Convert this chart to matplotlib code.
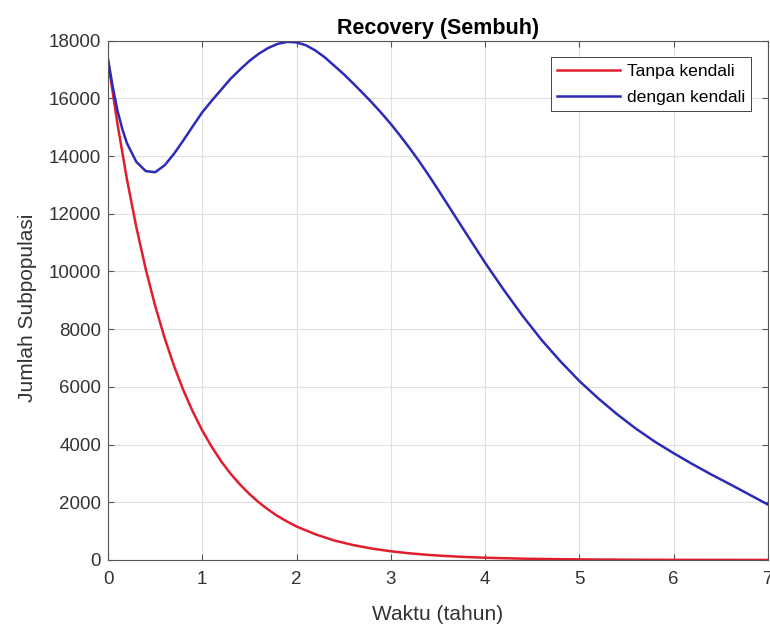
import numpy as np
import matplotlib
matplotlib.use('Agg')
import matplotlib.pyplot as plt

plt.rcParams['font.family'] = ['Liberation Sans', 'DejaVu Sans']

# waktu (tahun) dan nilai yang dibaca dari grafik
t_red = [0, 0.1, 0.2, 0.3, 0.4, 0.5, 0.6, 0.7, 0.8, 0.9, 1.0,
         1.1, 1.2, 1.3, 1.4, 1.5, 1.6, 1.7, 1.8, 1.9, 2.0,
         2.2, 2.4, 2.6, 2.8, 3.0, 3.2, 3.4, 3.6, 3.8, 4.0,
         4.4, 4.8, 5.2, 5.6, 6.0, 6.5, 7.0]
tanpa_kendali = [17300, 15115, 13205, 11540, 10080, 8810, 7700, 6725, 5875, 5135, 4485,
                 3920, 3420, 2990, 2615, 2284, 1995, 1744, 1520, 1331, 1160,
                 890, 675, 517, 395, 301, 230, 175, 134, 102, 78,
                 45, 27, 15, 9, 5, 3, 1]

t_blue = [0, 0.05, 0.1, 0.15, 0.2, 0.3, 0.4, 0.5, 0.6, 0.7, 0.8, 0.9, 1.0,
          1.1, 1.2, 1.3, 1.4, 1.5, 1.6, 1.7, 1.8, 1.9, 2.0,
          2.1, 2.2, 2.3, 2.4, 2.5, 2.6, 2.7, 2.8, 2.9, 3.0,
          3.1, 3.2, 3.3, 3.4, 3.5, 3.6, 3.7, 3.8, 4.0, 4.2, 4.4, 4.6,
          4.8, 5.0, 5.2, 5.4, 5.6, 5.8, 6.0, 6.2, 6.4, 6.6, 6.8, 7.0]
dengan_kendali = [17350, 16400, 15580, 14950, 14450, 13800, 13480, 13440, 13680, 14080,
                  14550, 15040, 15520, 15920, 16300, 16680, 17000, 17300, 17550, 17750,
                  17890, 17960, 17940, 17840, 17660, 17420, 17130, 16840, 16520, 16190,
                  15850, 15490, 15110, 14700, 14270, 13820, 13340, 12840, 12330, 11820,
                  11310, 10300, 9350, 8450, 7620, 6880, 6200, 5600, 5050, 4550,
                  4100, 3700, 3320, 2960, 2620, 2270, 1920]

xticks = [0, 1, 2, 3, 4, 5, 6, 7]
yticks = [0, 2000, 4000, 6000, 8000, 10000, 12000, 14000, 16000, 18000]

fig = plt.figure(figsize=(7.7, 6.24), dpi=100)
ax = fig.add_axes([0.1403, 0.1026, 0.8571, 0.8322])

ax.plot(t_red, tanpa_kendali, color='#e01e2e', lw=1.8, label='Tanpa kendali')
ax.plot(t_blue, dengan_kendali, color='#2b2bb8', lw=1.8, label='dengan kendali')

ax.set_xlim(0, 7)
ax.set_ylim(0, 18000)
ax.set_xticks(xticks)
ax.set_yticks(yticks)
ax.grid(True, color='#e0e0e0', lw=0.8)
ax.set_axisbelow(True)

for s in ax.spines.values():
    s.set_color('#555555')
    s.set_linewidth(0.8)
ax.tick_params(direction='in', length=4, width=0.8, color='#555555',
               top=True, right=True, labelsize=13.5, labelcolor='#333333')
ax.tick_params(axis='x', pad=8)
ax.tick_params(axis='y', pad=5)

ax.set_title('Recovery (Sembuh)', fontsize=15.5, fontweight='bold', pad=5)
ax.set_xlabel('Waktu (tahun)', fontsize=15, color='#333333')
ax.set_ylabel('Jumlah Subpopulasi', fontsize=15, color='#333333')
ax.xaxis.set_label_coords(0.5, -0.086)
ax.yaxis.set_label_coords(-0.107, 0.485)

leg = ax.legend(loc='upper right', fontsize=12.6, fancybox=False, framealpha=1,
                edgecolor='#262626', handlelength=3.6, handletextpad=0.4,
                borderaxespad=0.95, labelspacing=0.62, borderpad=0.36)
leg.get_frame().set_linewidth(0.6)

fig.savefig('out.png', dpi=100)
